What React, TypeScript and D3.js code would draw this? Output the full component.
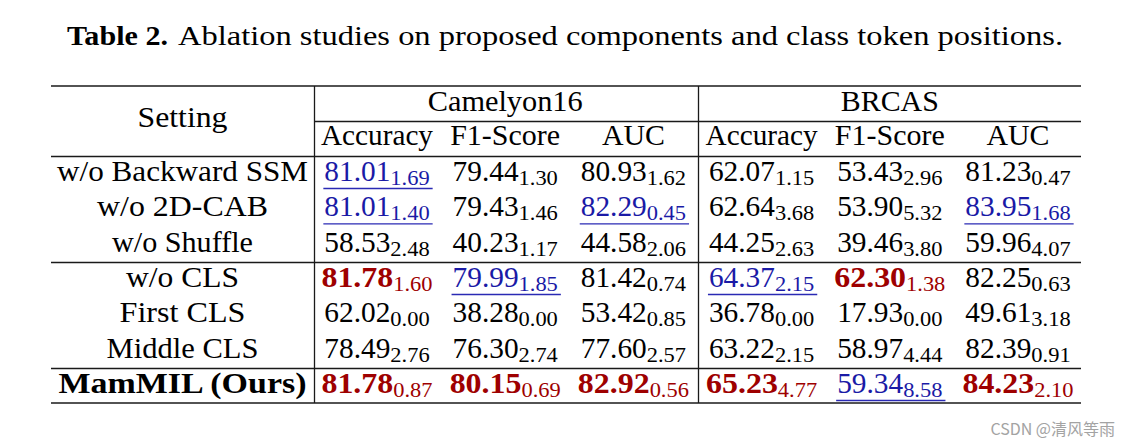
import React from "react";
import * as d3 from "d3";

const titleBold = "Table 2.";
const titleRest = "Ablation studies on proposed components and class token positions.";
const datasets = ["Camelyon16", "BRCAS"];
const metrics = ["Accuracy", "F1-Score", "AUC"];
const settings = ["w/o Backward SSM", "w/o 2D-CAB", "w/o Shuffle", "w/o CLS", "First CLS", "Middle CLS", "MamMIL (Ours)"];
const oursRow = 6;
const groupEnds = [2, 5]; // rule after these rows

const means = [
  ["81.01", "79.44", "80.93", "62.07", "53.43", "81.23"],
  ["81.01", "79.43", "82.29", "62.64", "53.90", "83.95"],
  ["58.53", "40.23", "44.58", "44.25", "39.46", "59.96"],
  ["81.78", "79.99", "81.42", "64.37", "62.30", "82.25"],
  ["62.02", "38.28", "53.42", "36.78", "17.93", "49.61"],
  ["78.49", "76.30", "77.60", "63.22", "58.97", "82.39"],
  ["81.78", "80.15", "82.92", "65.23", "59.34", "84.23"],
];
const stds = [
  ["1.69", "1.30", "1.62", "1.15", "2.96", "0.47"],
  ["1.40", "1.46", "0.45", "3.68", "5.32", "1.68"],
  ["2.48", "1.17", "2.06", "2.63", "3.80", "4.07"],
  ["1.60", "1.85", "0.74", "2.15", "1.38", "0.63"],
  ["0.00", "0.00", "0.85", "0.00", "0.00", "3.18"],
  ["2.76", "2.74", "2.57", "2.15", "4.44", "0.91"],
  ["0.87", "0.69", "0.56", "4.77", "8.58", "2.10"],
];
// b = best (bold red), u = second best (underlined blue), "" = plain
const marks = [
  ["u", "", "", "", "", ""],
  ["u", "", "u", "", "", "u"],
  ["", "", "", "", "", ""],
  ["b", "u", "", "u", "b", ""],
  ["", "", "", "", "", ""],
  ["", "", "", "", "", ""],
  ["b", "b", "b", "b", "u", "b"],
];
const watermark = "CSDN @清风等雨";

const W = 1131;
const H = 447;
const FONT = "Liberation Serif, DejaVu Serif, serif";
const FS = 29;
const SUB_FS = 21;
const RED = "#9e0000";
const BLUE = "#1a1aa6";
const LINE = "#1a1a1a";

// widths of the rendered text runs in the reference (px)
const labelWidths: Record<string, number> = {
  Setting: 90,
  Camelyon16: 155,
  BRCAS: 98,
  Accuracy: 112,
  "F1-Score": 110,
  AUC: 63,
  "w/o Backward SSM": 251,
  "w/o 2D-CAB": 171,
  "w/o Shuffle": 141,
  "w/o CLS": 113,
  "First CLS": 126,
  "Middle CLS": 152,
  "MamMIL (Ours)": 248,
};

export default function App() {
  const colKeys = datasets.flatMap((d) => metrics.map((m) => `${d}|${m}`));
  const x = d3.scalePoint<string>().domain(colKeys).range([377, 1018]);
  const y = d3.scaleLinear().domain([0, settings.length - 1]).range([181, 393]);

  const left = 51;
  const right = 1081;
  const divSetting = 314.5;
  const divData = 698.5;
  const topRule = 86;
  const midRule = 121.5;
  const headRule = 156.5;
  const bottomRule = 403;
  const lw = 1.3;

  const charW = (s: string, digit: number, dot: number) =>
    s.split("").reduce((a, c) => a + (c === "." ? dot : digit), 0);

  const Label = (p: { t: string; x: number; y: number; bold?: boolean }) => (
    <text
      x={p.x}
      y={p.y}
      textAnchor="middle"
      fontFamily={FONT}
      fontSize={FS}
      fontWeight={p.bold ? 700 : 400}
      textLength={labelWidths[p.t]}
      lengthAdjust="spacingAndGlyphs"
    >
      {p.t}
    </text>
  );

  const cells: React.ReactNode[] = [];
  means.forEach((row, ri) => {
    row.forEach((m, ci) => {
      const mk = marks[ri][ci];
      const s = stds[ri][ci];
      const bold = mk === "b";
      const mainW = bold ? charW(m, 15.8, 8.6) : charW(m, 14.6, 7.6);
      const subW = charW(s, 10.9, 6.6);
      const total = mainW + subW;
      const cx = x(colKeys[ci]) as number;
      const x0 = cx - total / 2;
      const by = y(ri);
      const color = mk === "b" ? RED : mk === "u" ? BLUE : "#000";
      cells.push(
        <g key={`c${ri}-${ci}`}>
          <text
            x={x0}
            y={by}
            fontFamily={FONT}
            fontSize={FS}
            fontWeight={bold ? 700 : 400}
            fill={color}
            textLength={mainW}
            lengthAdjust="spacingAndGlyphs"
          >
            {m}
          </text>
          <text
            x={x0 + mainW}
            y={by + 4}
            fontFamily={FONT}
            fontSize={SUB_FS}
            fill={color}
            textLength={subW}
            lengthAdjust="spacingAndGlyphs"
          >
            {s}
          </text>
          {mk === "u" && (
            <line
              x1={x0 - 1}
              x2={x0 + total + 3}
              y1={by + 7.5}
              y2={by + 7.5}
              stroke="#2a2ab4"
              strokeWidth={1.3}
            />
          )}
        </g>
      );
    });
  });

  return (
    <svg
      width={W}
      height={H}
      viewBox={`0 0 ${W} ${H}`}
      style={{ position: "absolute", left: 0, top: 0, background: "#fff" }}
    >
      <rect x={0} y={0} width={W} height={H} fill="#fff" />
      {/* title */}
      <text x={67} y={45} fontFamily={FONT} fontSize={27} fontWeight={700} textLength={101} lengthAdjust="spacingAndGlyphs">
        {titleBold}
      </text>
      <text x={178} y={45} fontFamily={FONT} fontSize={27} textLength={885} lengthAdjust="spacingAndGlyphs">
        {titleRest}
      </text>

      {/* rules */}
      <line x1={left} x2={right} y1={topRule} y2={topRule} stroke={LINE} strokeWidth={lw} />
      <line x1={divSetting} x2={right} y1={midRule} y2={midRule} stroke={LINE} strokeWidth={lw} />
      <line x1={left} x2={right} y1={headRule} y2={headRule} stroke={LINE} strokeWidth={lw} />
      {groupEnds.map((g) => {
        const yy = y(g + 1) - 24.5;
        return <line key={`g${g}`} x1={left} x2={right} y1={yy} y2={yy} stroke={LINE} strokeWidth={lw} />;
      })}
      <line x1={left} x2={right} y1={bottomRule} y2={bottomRule} stroke={LINE} strokeWidth={lw} />
      <line x1={divSetting} x2={divSetting} y1={topRule} y2={bottomRule} stroke={LINE} strokeWidth={lw} />
      <line x1={divData} x2={divData} y1={topRule} y2={bottomRule} stroke={LINE} strokeWidth={lw} />

      {/* header */}
      <Label t="Setting" x={182.5} y={127} />
      {datasets.map((d) => {
        const c0 = x(`${d}|${metrics[0]}`) as number;
        const c2 = x(`${d}|${metrics[metrics.length - 1]}`) as number;
        return <Label key={d} t={d} x={(c0 + c2) / 2} y={111} />;
      })}
      {colKeys.map((k) => (
        <Label key={k} t={k.split("|")[1]} x={x(k) as number} y={145} />
      ))}

      {/* row labels */}
      {settings.map((s, i) => (
        <Label key={s} t={s} x={182.5} y={y(i)} bold={i === oursRow} />
      ))}

      {cells}

      <text
        x={1115}
        y={435}
        textAnchor="end"
        fontFamily="Noto Sans CJK SC, Noto Sans, sans-serif"
        fontSize={16}
        fill="#a3a3a3"
      >
        {watermark}
      </text>
    </svg>
  );
}
